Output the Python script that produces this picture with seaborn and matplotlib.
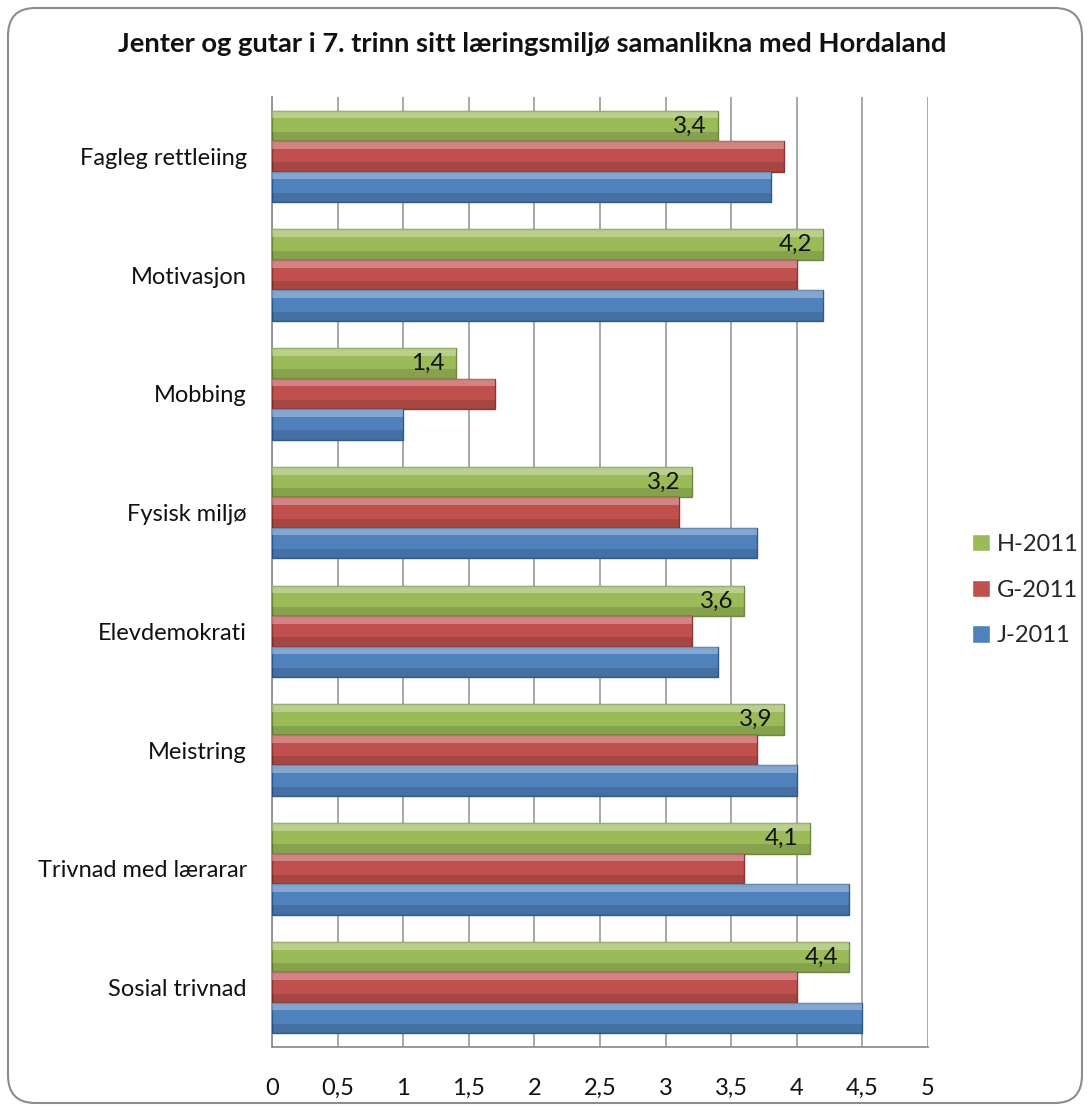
import matplotlib
matplotlib.use("Agg")
import matplotlib.pyplot as plt
import seaborn as sns
import pandas as pd
from matplotlib.patches import FancyBboxPatch, Rectangle
from matplotlib.ticker import FuncFormatter, MultipleLocator

categories = ["Fagleg rettleiing", "Motivasjon", "Mobbing", "Fysisk miljø",
              "Elevdemokrati", "Meistring", "Trivnad med lærarar", "Sosial trivnad"]
h_2011 = [3.4, 4.2, 1.4, 3.2, 3.6, 3.9, 4.1, 4.4]
g_2011 = [3.9, 4.0, 1.7, 3.1, 3.2, 3.7, 3.6, 4.0]
j_2011 = [3.8, 4.2, 1.0, 3.7, 3.4, 4.0, 4.4, 4.5]
series_names = ["H-2011", "G-2011", "J-2011"]
colors = {"H-2011": "#9BBB59", "G-2011": "#C0504D", "J-2011": "#4F81BD"}
edges = {"H-2011": "#6E8A3A", "G-2011": "#8C3431", "J-2011": "#2F5A8C"}
title = "Jenter og gutar i 7. trinn sitt læringsmiljø samanlikna med Hordaland"

rows = []
for name, vals in zip(series_names, [h_2011, g_2011, j_2011]):
    for c, v in zip(categories, vals):
        rows.append({"Kategori": c, "Serie": name, "Verdi": v})
df = pd.DataFrame(rows)

sns.set_theme(style="white")
plt.rcParams["font.family"] = ["Lato", "DejaVu Sans"]

fig = plt.figure(figsize=(10.9, 11.11), dpi=100)
ax = fig.add_axes([272 / 1090, 1 - 1047 / 1111, (928 - 272) / 1090, (1047 - 97) / 1111])

sns.barplot(data=df, x="Verdi", y="Kategori", hue="Serie", order=categories,
            hue_order=series_names, palette=colors, orient="h", width=0.77,
            ax=ax, legend=True, saturation=1)

# style bars with a pseudo-3D look
for cont, name in zip(ax.containers, series_names):
    for p in cont.patches:
        p.set_edgecolor(edges[name])
        p.set_linewidth(1.0)
        p.set_zorder(3)
        x0, y0 = p.get_x(), p.get_y()
        w, h = p.get_width(), p.get_height()
        hl = Rectangle((x0, y0), w, h * 0.25, facecolor="white", alpha=0.3,
                       edgecolor="none", zorder=4)
        ax.add_patch(hl)
        sh = Rectangle((x0, y0 + h * 0.7), w, h * 0.3, facecolor="black", alpha=0.13,
                       edgecolor="none", zorder=4)
        ax.add_patch(sh)

# data labels on H series (inside end)
for p, v in zip(ax.containers[0].patches, h_2011):
    ax.annotate(f"{v:.1f}".replace(".", ","),
                xy=(p.get_x() + p.get_width(), p.get_y() + p.get_height() / 2),
                xytext=(-8, 0), textcoords="offset points", ha="right", va="center",
                fontsize=17.5, color="#111111", zorder=6)

ax.set_xlim(0, 5)
ax.xaxis.set_major_locator(MultipleLocator(0.5))
ax.xaxis.set_major_formatter(FuncFormatter(lambda v, _: f"{v:g}".replace(".", ",")))
ax.grid(axis="x", color="#A0A0A0", linewidth=1.3, zorder=0)
ax.set_axisbelow(True)
ax.set_xlabel("")
ax.set_ylabel("")
for s in ["top", "right"]:
    ax.spines[s].set_visible(False)
ax.spines["left"].set_color("#909090")
ax.spines["left"].set_linewidth(1.3)
ax.spines["bottom"].set_color("#909090")
ax.spines["bottom"].set_linewidth(1.3)
ax.tick_params(axis="x", labelsize=17, pad=22, length=0, colors="#111111")
ax.tick_params(axis="y", labelsize=17, pad=18, length=0, colors="#111111")

leg = ax.legend(loc="center left", bbox_to_anchor=(1.035, 0.481), frameon=False,
                fontsize=17, handlelength=0.75, handleheight=0.75, labelspacing=1.05,
                handletextpad=0.3)

fig.text(532 / 1090, 1 - 44 / 1111, title, ha="center", va="center", fontsize=19.7,
         fontweight="bold", color="#111111")

border = FancyBboxPatch((8 / 1090, 8 / 1111), 1 - 16 / 1090, 1 - 16 / 1111,
                        boxstyle="round,pad=0,rounding_size=0.025",
                        transform=fig.transFigure, facecolor="none",
                        edgecolor="#8C8C8C", linewidth=1.5, zorder=0)
fig.patches.append(border)

fig.savefig("out.png", dpi=100)
